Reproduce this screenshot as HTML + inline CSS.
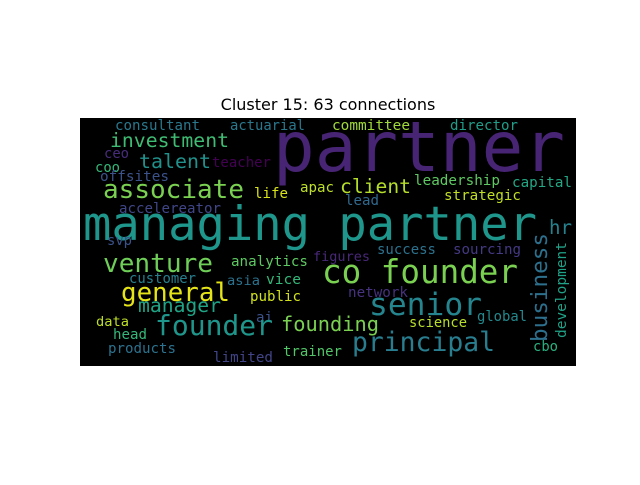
<!DOCTYPE html>
<html><head><meta charset="utf-8"><style>
html,body{margin:0;padding:0;background:#fff;}
svg text.w{font-family:"DejaVu Sans Mono","Liberation Mono",monospace;}
svg text.t{font-family:"DejaVu Sans","Liberation Sans",sans-serif;}
</style></head><body>
<svg width="640" height="480" viewBox="0 0 640 480" xmlns="http://www.w3.org/2000/svg">
<rect x="0" y="0" width="640" height="480" fill="#ffffff"/>
<text class="t" x="328" y="110" text-anchor="middle" font-size="16" fill="#000">Cluster 15: 63 connections</text>
<rect x="80" y="118" width="496" height="248" fill="#000"/>
<g id="words"></g>
</svg>
<script>
const words=["partner","managing partner","associate","investment","consultant","actuarial","committee","director","talent","teacher","ceo","coo","offsites","accelereator","life","apac","client","leadership","capital","strategic","lead","hr","svp","venture","analytics","figures","success","sourcing","co founder","customer","asia","vice","general","manager","public","network","senior","founding","global","science","ai","data","founder","head","principal","trainer","products","limited","cbo"];
const xs=[273,83,103,110,115,230,332,450,139,212,104,95,100,119,254,300,340,414,512,444,345,549,107,103,231,313,377,453,322,129,227,266,121,138,250,348,369,281,477,409,256,96,155,113,352,283,108,213,533];
const ys=[171,240,198,147,130,130,130,130,168,167,158,172,181,213,198,192,193,185,187,200,205,234,245,272,266,261,254,254,283,283,285,284,301,312,301,297,315,331,321,327,322,326,335,339,351,356,353,362,351];
const ws=[292,454,141,119,85,75,78,68,72,59,25,25,69,102,34,34,71,86,60,77,34,23,25,110,77,57,59,68,196,67,33,35,109,83,51,60,113,98,50,58,17,33,118,34,143,59,68,60,25];
const cs=["#482475","#1f968b","#7ad151","#3fbc73","#2a788e","#2a788e","#a0da39","#1f9e89","#21918c","#440154","#472d7b","#35b779","#3b528b","#404688","#d8e219","#bddf26","#b5de2b","#5ec962","#22a884","#c2df23","#31688e","#26828e","#3b528b","#6ece58","#5ec962","#482878","#2c728e","#443983","#7ad151","#277f8e","#2c728e","#35b779","#e5e419","#20a486","#d0e11c","#46327e","#25858e","#7ad151","#23898e","#b8de29","#3b528b","#bddf26","#1f968b","#35b779","#287d8e","#52c569","#2c728e","#414487","#2ab07f"];
const g=document.getElementById('words');
const NS="http://www.w3.org/2000/svg";
for(let i=0;i<words.length;i++){
  const t=document.createElementNS(NS,'text');
  
  
  t.setAttribute('class','w');
  t.setAttribute('x',xs[i]);t.setAttribute('y',ys[i]);
  t.setAttribute('font-size',(ws[i]/(words[i].length*0.602)).toFixed(2));
  t.setAttribute('fill',cs[i]);
  t.setAttribute('textLength',ws[i]);t.setAttribute('lengthAdjust','spacingAndGlyphs');
  t.textContent=words[i];
  g.appendChild(t);
}
const vWords=["business","development"];
const vx=[547,566],vy=[342,338],vl=[109,96],vc=["#2d708e","#1fa187"];
for(let i=0;i<vWords.length;i++){
  const t=document.createElementNS(NS,'text');
  
  
  t.setAttribute('class','w');
  t.setAttribute('transform','translate('+vx[i]+','+vy[i]+') rotate(-90)');
  t.setAttribute('x',0);t.setAttribute('y',0);
  t.setAttribute('font-size',(vl[i]/(vWords[i].length*0.602)).toFixed(2));
  t.setAttribute('fill',vc[i]);
  t.setAttribute('textLength',vl[i]);t.setAttribute('lengthAdjust','spacingAndGlyphs');
  t.textContent=vWords[i];
  g.appendChild(t);
}
</script>
</body></html>
